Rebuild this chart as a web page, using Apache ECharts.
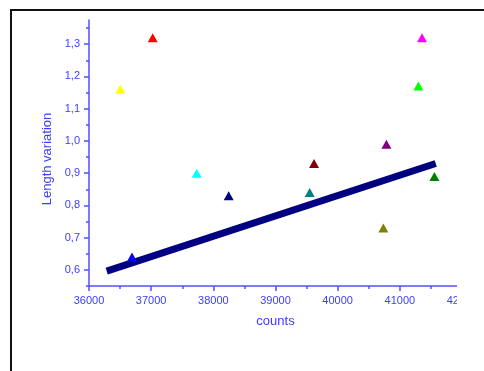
<!DOCTYPE html>
<html>
<head>
<meta charset="utf-8">
<script src="https://cdn.jsdelivr.net/npm/echarts@6/dist/echarts.min.js"></script>
<style>
  html, body { margin: 0; padding: 0; background: #fff; }
  #chart { width: 484px; height: 371px; }
</style>
</head>
<body>
<div id="chart"></div>
<script>
// ---- data ----
const counts = [36505, 37025, 36692, 37733, 38247, 39550, 39620, 40784, 40735, 41298, 41357, 41556];
const lengthVariation = [1.16, 1.32, 0.64, 0.90, 0.83, 0.84, 0.93, 0.99, 0.73, 1.17, 1.32, 0.89];
const pointColors = ['#ffff00', '#ff0000', '#0000ff', '#00ffff', '#000080', '#008080',
                     '#800000', '#800080', '#808000', '#00ff00', '#ff00ff', '#008000'];
const fitX = [36285, 41577];
const fitY = [0.596, 0.930];
const yMajorTicks = [0.6, 0.7, 0.8, 0.9, 1.0, 1.1, 1.2, 1.3];
const yMinorTicks = [0.55, 0.65, 0.75, 0.85, 0.95, 1.05, 1.15, 1.25, 1.35];

const labelColor = '#3c3cff';
const axisColor = '#5050ff';
const font = 'Liberation Sans, Arial, sans-serif';

const chart = echarts.init(document.getElementById('chart'), null, { renderer: 'canvas' });

const option = {
  animation: false,
  backgroundColor: '#fff',
  grid: { left: 89, top: 20, width: 373, height: 266, containLabel: false },
  xAxis: {
    type: 'value',
    min: 36000, max: 42000, interval: 1000,
    name: 'counts', nameLocation: 'middle', nameGap: 29,
    nameTextStyle: { color: labelColor, fontSize: 13, fontFamily: font },
    axisLine: { show: true, lineStyle: { color: axisColor, width: 1.5 } },
    axisTick: { show: true, length: 5, lineStyle: { color: axisColor, width: 1.5 } },
    minorTick: { show: true, splitNumber: 2, length: 3, lineStyle: { color: axisColor, width: 1.5 } },
    axisLabel: { color: labelColor, fontSize: 11, fontFamily: font, margin: 9, formatter: v => String(v) },
    splitLine: { show: false }
  },
  yAxis: [{
    type: 'value',
    min: 0.55, max: 1.375,
    name: 'Length variation', nameLocation: 'middle', nameGap: 31,
    nameTextStyle: { color: labelColor, fontSize: 13, fontFamily: font, padding: [0, 12, 0, 0] },
    axisLine: { show: true, lineStyle: { color: axisColor, width: 1.5 } },
    axisTick: { show: true, length: 5, customValues: yMajorTicks, lineStyle: { color: axisColor, width: 1.5 } },
    axisLabel: {
      color: labelColor, fontSize: 11, fontFamily: font, margin: 9,
      customValues: yMajorTicks,
      formatter: v => v.toFixed(1).replace('.', ',')
    },
    splitLine: { show: false }
  }, {
    type: 'value',
    min: 0.55, max: 1.375,
    position: 'left',
    axisLine: { show: false },
    axisTick: { show: true, length: 3, customValues: yMinorTicks, lineStyle: { color: axisColor, width: 1.5 } },
    axisLabel: { show: false },
    splitLine: { show: false }
  }],
  series: [
    {
      type: 'line',
      data: fitX.map((x, i) => [x, fitY[i]]),
      showSymbol: false,
      symbol: 'none',
      lineStyle: { color: '#000080', width: 7, cap: 'butt' },
      z: 2
    },
    {
      type: 'scatter',
      symbol: 'triangle',
      symbolSize: [10, 9],
      data: counts.map((x, i) => ({ value: [x, lengthVariation[i]], itemStyle: { color: pointColors[i], opacity: 1 } })),
      itemStyle: { opacity: 1 },
      z: 3
    }
  ],
  graphic: [
    { type: 'rect', z: 100, shape: { x: 457, y: 14, width: 40, height: 360 }, style: { fill: '#fff' } },
    { type: 'rect', z: 101, shape: { x: 11, y: 10, width: 500, height: 400 }, style: { fill: 'none', stroke: '#111', lineWidth: 2 } }
  ]
};
chart.setOption(option);
</script>
</body>
</html>
